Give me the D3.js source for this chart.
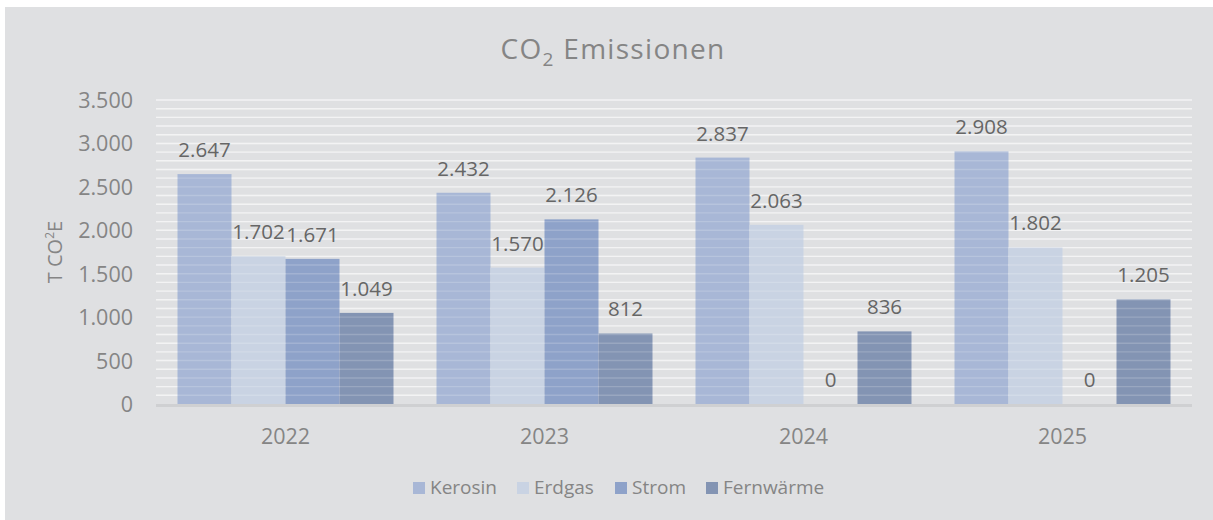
<!DOCTYPE html>
<html>
<head>
    <meta charset="utf-8">
    <style type="text/css">
        body { margin: 0; background: #fff; }
        text { font-family: "Open Sans", "Noto Sans", sans-serif; }
    </style>
</head>
<body>
<svg id="chart" width="1213" height="520"></svg>
<script src="https://cdnjs.cloudflare.com/ajax/libs/d3/7.8.5/d3.min.js"></script>
<script type="text/javascript">
// data
var years = ["2022", "2023", "2024", "2025"];
var series = ["Kerosin", "Erdgas", "Strom", "Fernwärme"];
var kerosin = [2647, 2432, 2837, 2908];
var erdgas = [1702, 1570, 2063, 1802];
var strom = [1671, 2126, 0, 0];
var fernwaerme = [1049, 812, 836, 1205];
var yTicks = [0, 500, 1000, 1500, 2000, 2500, 3000, 3500];
var colors = ["#a8b7d6", "#c9d3e3", "#8ea2c9", "#8394b3"];

var values = [kerosin, erdgas, strom, fernwaerme];
var rows = [];
years.forEach(function(y, i) {
    series.forEach(function(s, j) {
        rows.push({ year: y, series: s, value: values[j][i], idx: j });
    });
});

var svg = d3.select("#chart");
var margin = { left: 156, right: 1192, top: 100, bottom: 404 };

svg.append("rect")
    .attr("x", 5).attr("y", 7)
    .attr("width", 1208).attr("height", 513)
    .attr("fill", "#dfe0e2");

var x0 = d3.scaleBand().domain(years).range([margin.left, margin.right]).paddingInner(0).paddingOuter(0);
var x1 = d3.scaleBand().domain(series).range([21.5, x0.bandwidth() - 21.5]);
var y = d3.scaleLinear().domain([0, 3500]).range([margin.bottom, margin.top]);

var minor = d3.range(100, 3501, 100);

// gridlines under bars
svg.append("g").selectAll("line")
    .data(minor).enter().append("line")
    .attr("x1", margin.left).attr("x2", margin.right)
    .attr("y1", function(d) { return y(d); })
    .attr("y2", function(d) { return y(d); })
    .attr("stroke", "#f1f1f2")
    .attr("stroke-width", 1.4);

// bars
svg.append("g").selectAll("rect")
    .data(rows).enter().append("rect")
    .attr("x", function(d) { return x0(d.year) + x1(d.series); })
    .attr("width", x1.bandwidth())
    .attr("y", function(d) { return y(d.value); })
    .attr("height", function(d) { return y(0) - y(d.value); })
    .attr("fill", function(d) { return colors[d.idx]; });

// gridlines faintly through bars
svg.append("g").selectAll("line")
    .data(minor).enter().append("line")
    .attr("x1", margin.left).attr("x2", margin.right)
    .attr("y1", function(d) { return y(d); })
    .attr("y2", function(d) { return y(d); })
    .attr("stroke", "#ffffff")
    .attr("stroke-opacity", 0.18)
    .attr("stroke-width", 1.4);

// baseline
svg.append("line")
    .attr("x1", margin.left).attr("x2", margin.right)
    .attr("y1", y(0) + 1.5).attr("y2", y(0) + 1.5)
    .attr("stroke", "#cfd0d2").attr("stroke-width", 3);

// data labels
svg.append("g").selectAll("text")
    .data(rows).enter().append("text")
    .attr("x", function(d) { return x0(d.year) + x1(d.series) + x1.bandwidth() / 2; })
    .attr("y", function(d) { return y(d.value) - 17; })
    .attr("text-anchor", "middle")
    .attr("font-size", 20.5)
    .attr("fill", "#666666")
    .text(function(d) { return d3.format(",")(d.value).replace(/,/g, "."); });

// y axis
var yAxis = d3.axisLeft(y).tickValues(yTicks).tickSize(0).tickPadding(0)
    .tickFormat(function(d) { return d3.format(",")(d).replace(/,/g, "."); });
var gy = svg.append("g").attr("transform", "translate(133,0)").call(yAxis);
gy.select(".domain").remove();
gy.selectAll("text")
    .attr("font-size", 21.5).attr("fill", "#858585")
    .attr("font-family", "Open Sans").attr("dy", "0.35em");

// x axis
var xAxis = d3.axisBottom(x0).tickSize(0).tickPadding(0);
var gx = svg.append("g").attr("transform", "translate(0,444)").call(xAxis);
gx.select(".domain").remove();
gx.selectAll("text")
    .attr("font-size", 21.5).attr("fill", "#858585")
    .attr("font-family", "Open Sans").attr("dy", 0);

// title
var title = svg.append("text")
    .attr("x", 613).attr("y", 59)
    .attr("text-anchor", "middle")
    .attr("font-size", 28)
    .attr("letter-spacing", 1.3)
    .attr("fill", "#858585");
title.append("tspan").text("CO");
title.append("tspan").attr("font-size", 19).attr("dy", 7).text("2");
title.append("tspan").attr("dy", -7).text(" Emissionen");

// y axis title
var yt = svg.append("text")
    .attr("transform", "translate(62,252) rotate(-90)")
    .attr("text-anchor", "middle")
    .attr("font-size", 20)
    .attr("fill", "#858585");
yt.append("tspan").text("T CO");
yt.append("tspan").attr("font-size", 12).attr("dy", -8).text("2");
yt.append("tspan").attr("dy", 8).text("E");

// legend
var legendX = [413, 517, 615, 706];
var legend = svg.append("g").selectAll("g")
    .data(series).enter().append("g")
    .attr("transform", function(d, i) { return "translate(" + legendX[i] + ",482)"; });
legend.append("rect")
    .attr("width", 12).attr("height", 12)
    .attr("fill", function(d, i) { return colors[i]; });
legend.append("text")
    .attr("x", 17).attr("y", 12)
    .attr("font-size", 19)
    .attr("fill", "#858585")
    .text(function(d) { return d; });
</script>
</body>
</html>
